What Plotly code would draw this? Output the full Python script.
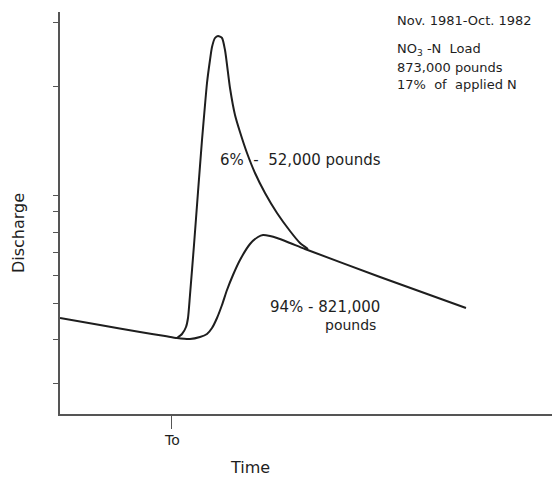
import plotly.graph_objects as go

# Arbitrary units: time (x) and discharge (y)
recession_t = [0, 40, 80, 105, 117]
recession_q = [96, 89, 82, 78, 76]

conduit_t = [117, 122, 126, 128, 130, 134, 138, 142, 145, 147, 150, 152, 155, 158,
             162, 165, 170, 175, 180, 187, 195, 205, 217, 230, 240, 248]
conduit_q = [76, 80, 87, 96, 119, 169, 222, 274, 309, 331, 354, 367, 376, 378,
             376, 364, 326, 299, 282, 261, 241, 221, 201, 183, 171, 165]

baseflow_t = [117, 130, 140, 147, 152, 157, 162, 167, 173, 180, 190, 198, 203, 210,
              217, 230, 245, 320, 406]
baseflow_q = [76, 75, 77, 80, 86, 96, 109, 124, 139, 154, 170, 177, 179, 178,
              176, 171, 165, 137, 106]

y_ticks = [392, 328, 219, 203, 182, 162, 139, 111, 75, 31]
t0 = 111

FONT = "DejaVu Sans"
INK = "#1e1e1e"
AXIS = "#555555"

fig = go.Figure()
line_style = dict(color=INK, width=2, shape="spline", smoothing=0.6)
fig.add_trace(go.Scatter(x=recession_t + baseflow_t[1:], y=recession_q + baseflow_q[1:],
                         mode="lines", line=line_style, hoverinfo="skip"))
fig.add_trace(go.Scatter(x=conduit_t, y=conduit_q, mode="lines", line=line_style,
                         hoverinfo="skip"))

fig.update_layout(
    width=552, height=472,
    margin=dict(l=52, r=0, t=4, b=66, pad=0),
    paper_bgcolor="white", plot_bgcolor="white",
    showlegend=False,
    font=dict(family=FONT, color=INK, size=14),
    xaxis=dict(range=[0, 500], showgrid=False, zeroline=False,
               showline=True, linecolor=AXIS, linewidth=1.5,
               tickmode="array", tickvals=[t0], ticks="outside", ticklen=13,
               tickwidth=1.2, tickcolor=AXIS, showticklabels=False, fixedrange=True),
    yaxis=dict(range=[0, 402], showgrid=False, zeroline=False,
               showline=True, linecolor=AXIS, linewidth=1.5,
               tickmode="array", tickvals=y_ticks, ticks="outside", ticklen=5,
               tickwidth=1.2, tickcolor=AXIS, showticklabels=False, fixedrange=True),
)

def note(x, y, text, size=14, xanchor="left", angle=0, ref="data"):
    r = ("x", "y") if ref == "data" else ("paper", "paper")
    fig.add_annotation(x=x, y=y, xref=r[0], yref=r[1], text=text, showarrow=False,
                       xanchor=xanchor, yanchor="middle", textangle=angle,
                       font=dict(family=FONT, size=size, color=INK))

note(335, 394, "Nov. 1981-Oct. 1982", 13)
note(335, 365, "NO<sub>3</sub> -N  Load", 13)
note(335, 347, "873,000 pounds", 13)
note(335, 330, "17%  of  applied N", 13)
note(158, 254, "6%  -  52,000 pounds", 15)
note(208, 107, "94% - 821,000", 15)
note(290, 89, "pounds", 14, xanchor="center")
note(0.224, -0.0647, "To", 14, xanchor="center", ref="paper")
note(0.38, -0.134, "Time", 16, xanchor="center", ref="paper")
note(-0.084, 0.45, "Discharge", 16, xanchor="center", angle=-90, ref="paper")

fig.write_html("out.html")
